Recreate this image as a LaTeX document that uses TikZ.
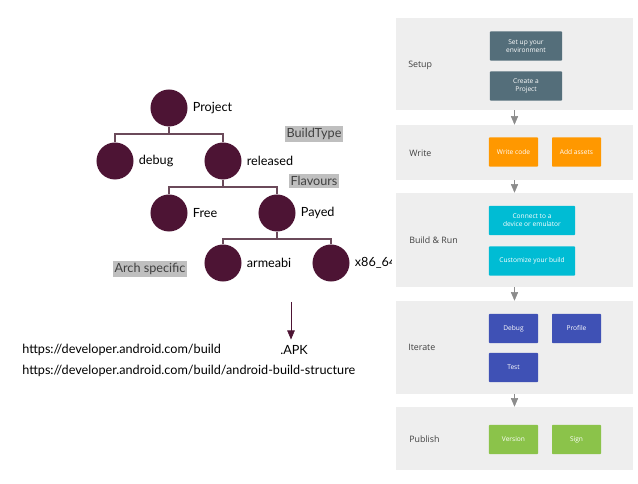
\documentclass[tikz,border=0pt]{standalone}
\usepackage{fontspec}
\setmainfont{Lato}
\newfontfamily\uifont{Open Sans}
\usepackage{tikz}
\usetikzlibrary{arrows, calc, positioning}
\definecolor{plum}{HTML}{4D1434}
\definecolor{twig}{HTML}{6B4A5A}
\definecolor{tagbg}{HTML}{BFBFBF}
\definecolor{bandbg}{HTML}{EEEEEE}
\definecolor{slate}{HTML}{546E7A}
\definecolor{amber}{HTML}{FF9800}
\definecolor{aqua}{HTML}{00BCD4}
\definecolor{indigo}{HTML}{3F51B5}
\definecolor{leaf}{HTML}{8BC34A}
\newcommand{\drawt}{\draw[twig, line width=0.9pt]}
\tikzset{
  ball/.style={circle, fill=plum, minimum size=0.925cm, inner sep=0pt},
  lbl/.style={font=\fontsize{9}{11}\selectfont, inner sep=0pt, anchor=west},
  tag/.style={fill=tagbg, text=black!75, font=\fontsize{9}{11}\selectfont, inner sep=1.3pt},
  band/.style={fill=bandbg, minimum width=5.925cm, inner sep=0pt},
  stagelbl/.style={font=\uifont\fontsize{6.3}{7.5}\selectfont, text=black!75, anchor=west, inner sep=0pt},
  task/.style={rounded corners=0.6pt, minimum height=0.73cm, text=white, align=center,
    font=\uifont\fontsize{4.7}{5.7}\selectfont, inner sep=0pt},
  uiarrow/.style={->, draw=black!45, line width=0.35pt},
}

\begin{document}
\begin{tikzpicture}[>=triangle 45, x=0.025cm, y=-0.025cm]
\useasboundingbox (0,0) rectangle (638,484);
% Cay du an
\node[ball] (project) at (169,108) {};
\node[ball] (debug) at (115,161) {};
\node[ball] (released) at (223,161) {};
\node[ball] (free) at (169,213) {};
\node[ball] (payed) at (277,213) {};
\node[ball] (armeabi) at (223,263) {};
\node[ball] (x86) at (331,263) {};
\node[lbl, right=0.12cm of project] (tproject) {Project};
\node[lbl, right=0.12cm of debug] (tdebug) {debug};
\node[lbl, right=0.12cm of released] (treleased) {released};
\node[lbl, right=0.12cm of free] (tfree) {Free};
\node[lbl, right=0.12cm of payed] (tpayed) {Payed};
\node[lbl, right=0.12cm of armeabi] (tarmeabi) {armeabi};
\node[lbl, right=0.12cm of x86] (tx86) {x86\_64};
% Nhanh
\coordinate (j1) at (169,134);
\coordinate (j2) at (223,187);
\coordinate (j3) at (277,239);
\drawt (project.south) -- (j1);
\drawt (debug.north) |- (j1) -| (released.north);
\drawt (released.south) -- (j2);
\drawt (free.north) |- (j2) -| (payed.north);
\drawt (payed.south) -- (j3);
\drawt (armeabi.north) |- (j3) -| (x86.north);
% Nhan xam
\node[tag] (buildtype) at (314,134) {BuildType};
\node[tag] (flavours) at (314,181) {Flavours};
\node[tag] (arch) at (150,269) {Arch specific};
% APK va lien ket
\node[lbl] (apk) at (280,350) {.APK};
\coordinate (a0) at (291,302);
\draw[plum, line width=0.45pt, ->, shorten >=4pt] (a0) -- (a0 |- apk.north);
\node[lbl] (url1) at (22,350) {https://developer.android.com/build};
\node[lbl] (url2) at (22,371) {https://developer.android.com/build/android-build-structure};
% Anh quy trinh
\fill[white] (391.5,0) rectangle (638,484);
\node[band, minimum height=2.3cm] (setup) at (514.5,64) {};
\node[band, minimum height=1.375cm] (write) at (514.5,152.5) {};
\node[band, minimum height=2.35cm] (build) at (514.5,240) {};
\node[band, minimum height=2.325cm] (iterate) at (514.5,347.5) {};
\node[band, minimum height=1.575cm] (publish) at (514.5,438.5) {};
\draw[uiarrow] (setup.south) -- (write.north);
\draw[uiarrow] (write.south) -- (build.north);
\draw[uiarrow] (build.south) -- (iterate.north);
\draw[uiarrow] (iterate.south) -- (publish.north);
\node[stagelbl] (lsetup) at (408,65) {Setup};
\node[stagelbl] (lwrite) at (409,153) {Write};
\node[stagelbl] (lbuild) at (409,240) {Build \& Run};
\node[stagelbl] (literate) at (408,347) {Iterate};
\node[stagelbl] (lpublish) at (409,439) {Publish};
\node[task, fill=slate, minimum width=1.8cm] (envbox) at (526,46) {Set up your\\environment};
\node[task, fill=slate, minimum width=1.8cm] (projbox) at (526,86) {Create a\\Project};
\node[task, fill=amber, minimum width=1.225cm] (codebox) at (513.5,152) {Write code};
\node[task, fill=amber, minimum width=1.225cm] (assetbox) at (576.5,152) {Add assets};
\node[task, fill=aqua, minimum width=2.15cm] (devbox) at (532,220.5) {Connect to a\\device or emulator};
\node[task, fill=aqua, minimum width=2.15cm] (custbox) at (532,261) {Customize your build};
\node[task, fill=indigo, minimum width=1.225cm] (dbgbox) at (513.5,328.5) {Debug};
\node[task, fill=indigo, minimum width=1.225cm] (profbox) at (576.5,328.5) {Profile};
\node[task, fill=indigo, minimum width=1.225cm] (testbox) at (513.5,367.5) {Test};
\node[task, fill=leaf, minimum width=1.225cm] (verbox) at (513.5,439.5) {Version};
\node[task, fill=leaf, minimum width=1.225cm] (signbox) at (576.5,439.5) {Sign};
\end{tikzpicture}
\end{document}
